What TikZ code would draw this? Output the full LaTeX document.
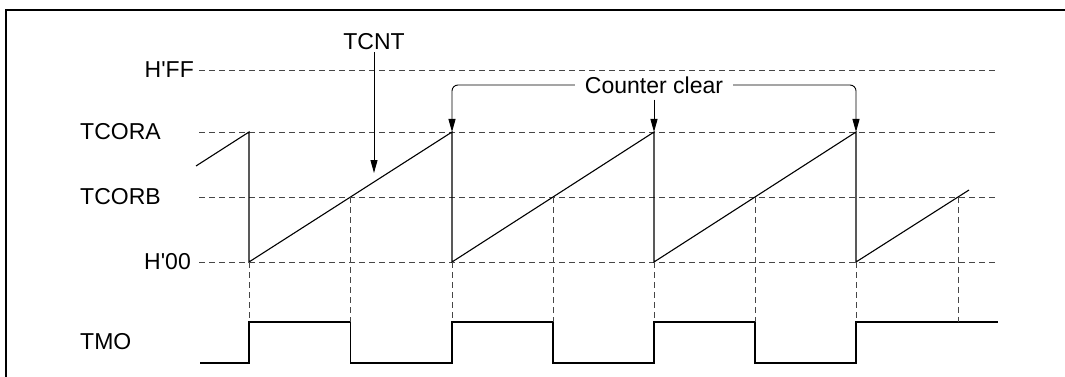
\documentclass[tikz,border=0pt]{standalone}
\usepackage{fontspec}
\setmainfont{Liberation Sans}
\usetikzlibrary{calc,arrows.meta,positioning}

\begin{document}
\begin{tikzpicture}[>={Triangle[length=13pt,width=7pt]}, x=1pt, y=-1pt, font=\fontsize{23}{27}\selectfont,
    guide/.style={gray!55!black, line width=0.9pt, dash pattern=on 6pt off 4pt},
    wave/.style={line width=1.1pt},
    lvl/.style={inner sep=0pt}]
    % Frame (open at right and bottom)
    \useasboundingbox (0,0) rectangle (1065,377);
    \draw[line width=1.5pt] (6,377) -- (6,10) -- (1065,10);

    % Level labels
    \node[lvl, anchor=east] (ff) at (194,70) {H\textquotesingle FF};
    \node[lvl, anchor=west] (tcora) at (80,132) {TCORA};
    \node[lvl, anchor=west] (tcorb) at (80,197) {TCORB};
    \node[lvl, anchor=east] (h00) at (191,262) {H\textquotesingle 00};
    \node[lvl, anchor=west] (tmo) at (80,342) {TMO};

    % Level guides
    \draw[guide] (199,70) -- (998,70);
    \draw[guide] (199,132) -- (998,132);
    \draw[guide] (199,197) -- (998,197);
    \draw[guide] (199,262) -- (998,262);

    % Clear points (TCORA match) and TCORB matches
    \coordinate (hi) at (0,322);
    \coordinate (lo) at (0,363);
    \coordinate (r1) at (249,262); \coordinate (a1) at (249,132);
    \coordinate (r2) at (452,262); \coordinate (a2) at (452,132);
    \coordinate (r3) at (654,262); \coordinate (a3) at (654,132);
    \coordinate (r4) at (856,262); \coordinate (a4) at (856,132);
    \coordinate (e) at (969,190);
    \coordinate (b1) at ($(r1)!.5!(a2)$);
    \coordinate (b2) at ($(r2)!.5!(a3)$);
    \coordinate (b3) at ($(r3)!.5!(a4)$);
    \coordinate (b4) at ($(r4)!.903!(e)$);

    % TCNT sawtooth
    \draw[wave] (196,166) -- (a1) -- (r1) -- (a2) -- (r2) -- (a3) -- (r3) -- (a4) -- (r4) -- (e);

    % TMO output
    \draw[wave] (200,363) -- (r1 |- lo) -- (r1 |- hi) -- (b1 |- hi) -- (b1 |- lo)
        -- (r2 |- lo) -- (r2 |- hi) -- (b2 |- hi) -- (b2 |- lo)
        -- (r3 |- lo) -- (r3 |- hi) -- (b3 |- hi) -- (b3 |- lo)
        -- (r4 |- lo) -- (r4 |- hi) -- (998,322);

    % Projections down to TMO
    \foreach \p in {r1,r2,r3,r4,b1,b2,b3,b4}
        \draw[guide] (\p) -- (\p |- hi);

    % TCNT pointer
    \node[inner sep=2pt] (tcnt) at (374,42) {TCNT};
    \coordinate (tcntTip) at (374,173);
    \draw[->, line width=0.9pt] (tcnt) -- (tcntTip);

    % Counter clear pointers
    \node[inner xsep=10pt, inner ysep=6pt] (clr) at (654,85) {Counter clear};
    \draw[->, line width=0.9pt, rounded corners=6pt] (clr.west) -- (clr.west -| a2) -- (a2);
    \draw[->, line width=0.9pt] (clr) -- (a3);
    \draw[->, line width=0.9pt, rounded corners=6pt] (clr.east) -- (clr.east -| a4) -- (a4);
\end{tikzpicture}
\end{document}
